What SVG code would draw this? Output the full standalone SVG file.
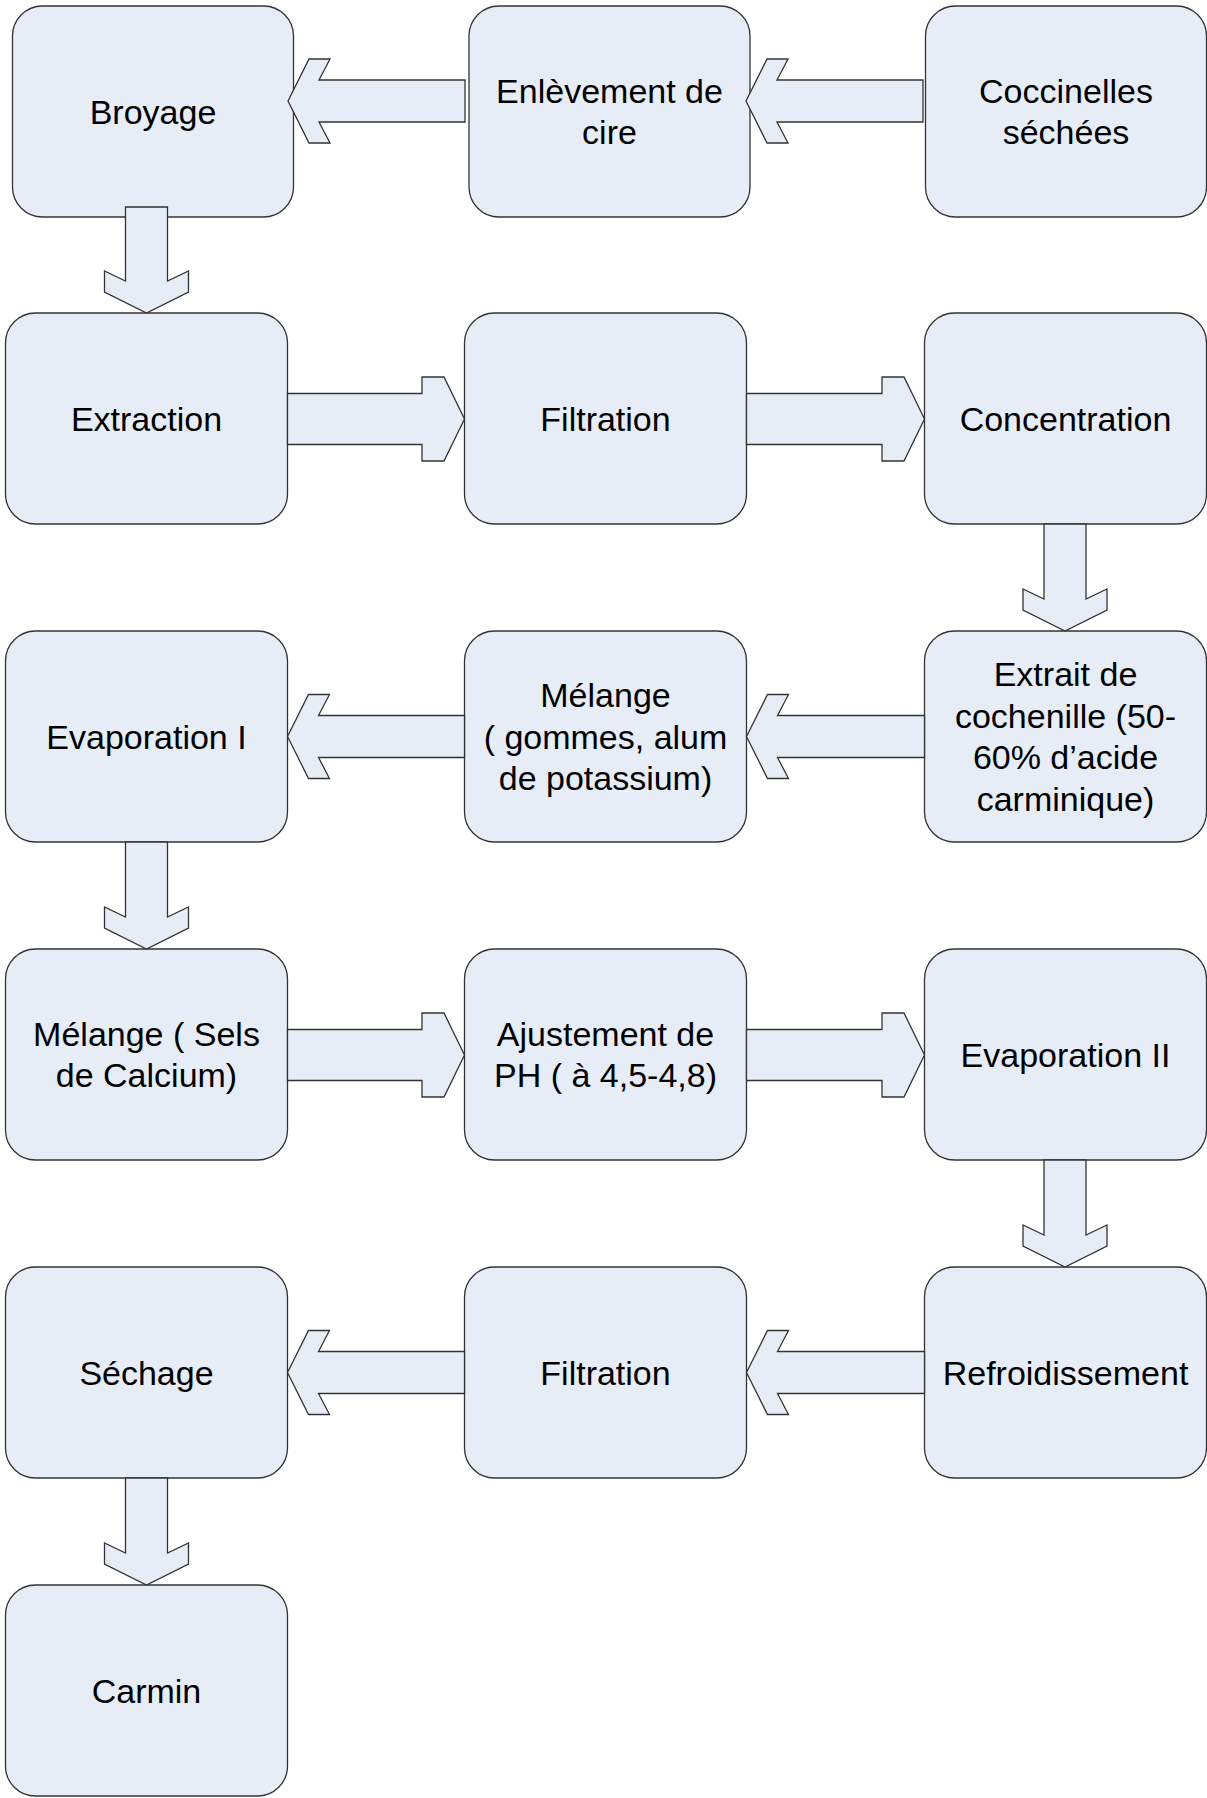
<svg xmlns="http://www.w3.org/2000/svg" width="1207" height="1798" viewBox="0 0 1207 1798">
<style>
.box{fill:#E7EDF7;stroke:#333;stroke-width:1.3}
.arr{fill:#E7EDF7;stroke:#333;stroke-width:1.3;stroke-linejoin:miter}
text{font-family:"Liberation Sans",Arial,sans-serif;font-size:34px;fill:#000;text-anchor:middle}
</style>
<rect width="1207" height="1798" fill="#fff"/>
<g id="nodes">
<g id="n-broyage"><rect class="box" x="12.5" y="6" width="281" height="211" rx="30"/><text x="153" y="123.5">Broyage</text></g>
<g id="n-enlevement"><rect class="box" x="469" y="6" width="281" height="211" rx="30"/><text x="609.5" y="102.75">Enlèvement de</text><text x="609.5" y="144.25">cire</text></g>
<g id="n-coccinelles"><rect class="box" x="925.5" y="6" width="281" height="211" rx="30"/><text x="1066" y="102.75">Coccinelles</text><text x="1066" y="144.25">séchées</text></g>

<g id="n-extraction"><rect class="box" x="5.5" y="313" width="282" height="211" rx="30"/><text x="146.5" y="430.5">Extraction</text></g>
<g id="n-filtration1"><rect class="box" x="464.5" y="313" width="282" height="211" rx="30"/><text x="605.5" y="430.5">Filtration</text></g>
<g id="n-concentration"><rect class="box" x="924.5" y="313" width="282" height="211" rx="30"/><text x="1065.5" y="430.5">Concentration</text></g>

<g id="n-evap1"><rect class="box" x="5.5" y="631" width="282" height="211" rx="30"/><text x="146.5" y="748.5">Evaporation I</text></g>
<g id="n-melange1"><rect class="box" x="464.5" y="631" width="282" height="211" rx="30"/><text x="605.5" y="707">Mélange</text><text x="605.5" y="748.5">( gommes, alum</text><text x="605.5" y="790">de potassium)</text></g>
<g id="n-extrait"><rect class="box" x="924.5" y="631" width="282" height="211" rx="30"/><text x="1065.5" y="686">Extrait de</text><text x="1065.5" y="727.5">cochenille (50-</text><text x="1065.5" y="769">60% d’acide</text><text x="1065.5" y="810.5">carminique)</text></g>

<g id="n-melange2"><rect class="box" x="5.5" y="949" width="282" height="211" rx="30"/><text x="146.5" y="1045.75">Mélange ( Sels</text><text x="146.5" y="1087.25">de Calcium)</text></g>
<g id="n-ajustement"><rect class="box" x="464.5" y="949" width="282" height="211" rx="30"/><text x="605.5" y="1045.75">Ajustement de</text><text x="605.5" y="1087.25">PH ( à 4,5-4,8)</text></g>
<g id="n-evap2"><rect class="box" x="924.5" y="949" width="282" height="211" rx="30"/><text x="1065.5" y="1066.5">Evaporation II</text></g>

<g id="n-sechage"><rect class="box" x="5.5" y="1267" width="282" height="211" rx="30"/><text x="146.5" y="1384.5">Séchage</text></g>
<g id="n-filtration2"><rect class="box" x="464.5" y="1267" width="282" height="211" rx="30"/><text x="605.5" y="1384.5">Filtration</text></g>
<g id="n-refroid"><rect class="box" x="924.5" y="1267" width="282" height="211" rx="30"/><text x="1065.5" y="1384.5">Refroidissement</text></g>

<g id="n-carmin"><rect class="box" x="5.5" y="1585" width="282" height="211" rx="30"/><text x="146.5" y="1702.5">Carmin</text></g>
</g>
<g id="connectors">
<!-- row 1 left arrows -->
<polygon class="arr" points="288,101 309,59 330,59 319,80 465,80 465,122 319,122 330,143 309,143"/>
<polygon class="arr" points="746,101 767,59 788,59 777,80 923,80 923,122 777,122 788,143 767,143"/>
<!-- Broyage down -->
<polygon class="arr" points="125.5,207 167.5,207 167.5,281 188.5,271 188.5,292 146.5,313 104.5,292 104.5,271 125.5,281"/>
<!-- row 2 right arrows -->
<polygon class="arr" points="287.5,393.5 422,393.5 422,377 444,377 464.5,419 444,461 422,461 422,444.5 287.5,444.5"/>
<polygon class="arr" points="746.5,393.5 882,393.5 882,377 904,377 924.5,419 904,461 882,461 882,444.5 746.5,444.5"/>
<!-- Concentration down -->
<polygon class="arr" points="1044,524 1086,524 1086,599 1107,589 1107,610 1065,631 1023,610 1023,589 1044,599"/>
<!-- row 3 left arrows -->
<polygon class="arr" points="287.5,736.5 308.5,694.5 329.5,694.5 318.5,715.5 464.5,715.5 464.5,757.5 318.5,757.5 329.5,778.5 308.5,778.5"/>
<polygon class="arr" points="746.5,736.5 767.5,694.5 788.5,694.5 777.5,715.5 924.5,715.5 924.5,757.5 777.5,757.5 788.5,778.5 767.5,778.5"/>
<!-- Evap I down -->
<polygon class="arr" points="125.5,842 167.5,842 167.5,917 188.5,907 188.5,928 146.5,949 104.5,928 104.5,907 125.5,917"/>
<!-- row 4 right arrows -->
<polygon class="arr" points="287.5,1029.5 422,1029.5 422,1013 444,1013 464.5,1055 444,1097 422,1097 422,1080.5 287.5,1080.5"/>
<polygon class="arr" points="746.5,1029.5 882,1029.5 882,1013 904,1013 924.5,1055 904,1097 882,1097 882,1080.5 746.5,1080.5"/>
<!-- Evap II down -->
<polygon class="arr" points="1044,1160 1086,1160 1086,1235 1107,1225 1107,1246 1065,1267 1023,1246 1023,1225 1044,1235"/>
<!-- row 5 left arrows -->
<polygon class="arr" points="287.5,1372.5 308.5,1330.5 329.5,1330.5 318.5,1351.5 464.5,1351.5 464.5,1393.5 318.5,1393.5 329.5,1414.5 308.5,1414.5"/>
<polygon class="arr" points="746.5,1372.5 767.5,1330.5 788.5,1330.5 777.5,1351.5 924.5,1351.5 924.5,1393.5 777.5,1393.5 788.5,1414.5 767.5,1414.5"/>
<!-- Sechage down -->
<polygon class="arr" points="125.5,1478 167.5,1478 167.5,1553 188.5,1543 188.5,1564 146.5,1585 104.5,1564 104.5,1543 125.5,1553"/>
</g>
</svg>
